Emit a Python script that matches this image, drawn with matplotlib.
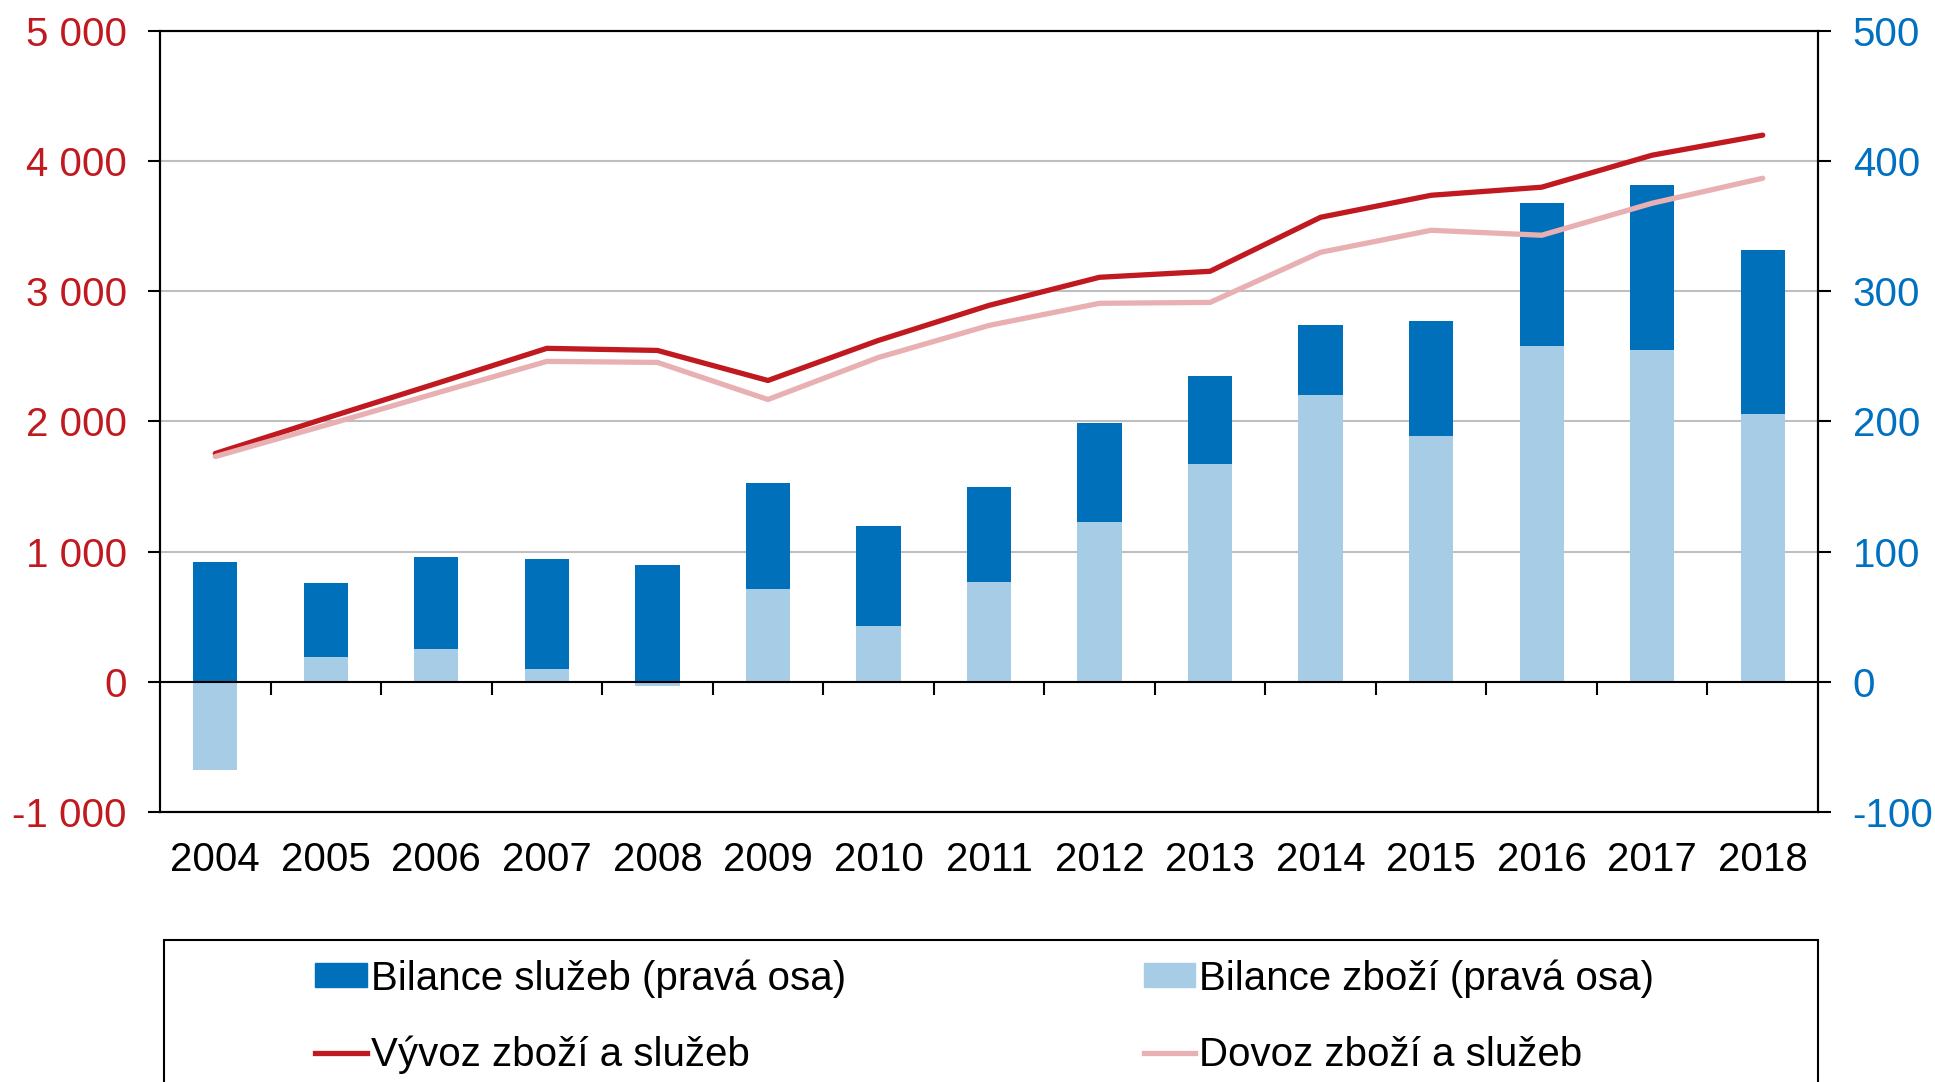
import numpy as np
import matplotlib
matplotlib.use("Agg")
import matplotlib.pyplot as plt
from matplotlib.ticker import FuncFormatter
from matplotlib.patches import Patch, Rectangle
from matplotlib.lines import Line2D

plt.rcParams['font.family'] = ['Liberation Sans', 'DejaVu Sans']

years = ['2004', '2005', '2006', '2007', '2008', '2009', '2010', '2011',
         '2012', '2013', '2014', '2015', '2016', '2017', '2018']
# right axis (bars)
goods_balance = [-68, 19, 25, 10, -3, 71, 43, 77, 123, 167, 220, 189, 258, 255, 206]
services_balance = [92, 57, 71, 84, 90, 82, 77, 73, 76, 68, 54, 88, 110, 127, 126]
# left axis (lines)
exports = [1754, 2025, 2292, 2562, 2546, 2315, 2623, 2892, 3108, 3154, 3569, 3738, 3800, 4046, 4200]
imports = [1731, 1972, 2218, 2462, 2454, 2169, 2492, 2738, 2908, 2915, 3300, 3469, 3431, 3677, 3869]

label_services = 'Bilance služeb (pravá osa)'
label_goods = 'Bilance zboží (pravá osa)'
label_exp = 'Vývoz zboží a služeb'
label_imp = 'Dovoz zboží a služeb'

RED = '#C0191F'
PINK = '#E8B0B3'
DARK = '#0070BA'
LIGHT = '#A7CCE5'
BLUE_TXT = '#0070C0'
FS = 29
LFS = 29

fig = plt.figure(figsize=(19.35, 10.82), dpi=100)
ax = fig.add_axes([160/1935, 1-812/1082, (1818-160)/1935, (812-31)/1082])
ax2 = ax.twinx()
ax.set_zorder(ax2.get_zorder() + 1)
ax.patch.set_visible(False)

x = np.arange(len(years))
g = np.array(goods_balance, dtype=float)
s = np.array(services_balance, dtype=float)
ax2.bar(x, g, width=0.4, color=LIGHT, zorder=2)
ax2.bar(x, s, width=0.4, bottom=np.where(g > 0, g, 0), color=DARK, zorder=2)
ax2.set_ylim(-100, 500)
ax2.set_yticks(np.arange(-100, 501, 100))
ax2.yaxis.grid(True, color='#BFBFBF', lw=1.5)
ax2.set_axisbelow(True)

ax.plot(x, exports, color=RED, lw=3.8, solid_capstyle='round')
ax.plot(x, imports, color=PINK, lw=3.8, solid_capstyle='round')
ax.set_ylim(-1000, 5000)
ax.set_yticks(np.arange(-1000, 5001, 1000))
ax.set_xlim(-0.5, len(years) - 0.5)

fmt = FuncFormatter(lambda v, p: f"{v:,.0f}".replace(",", " "))
ax.yaxis.set_major_formatter(fmt)
ax2.yaxis.set_major_formatter(FuncFormatter(lambda v, p: f"{v:.0f}"))

ax.tick_params(axis='y', direction='out', length=9, width=1.5, pad=15,
               labelcolor=RED, labelsize=FS)
ax2.tick_params(axis='y', direction='out', length=9, width=1.5, pad=16,
                labelcolor=BLUE_TXT, labelsize=FS)

# zero line with category separators
ax.spines['bottom'].set_position(('data', 0))
ax.set_xticks(np.arange(0.5, len(years) - 1, 1.0))
ax.tick_params(axis='x', direction='out', length=9, width=1.5, labelbottom=False)

sec = ax.secondary_xaxis('bottom')
sec.set_xticks(x, labels=years)
sec.tick_params(length=0, pad=21, labelsize=FS)
sec.spines['bottom'].set_linewidth(1.5)

for a in (ax, ax2):
    for sp in a.spines.values():
        sp.set_linewidth(1.5)
        sp.set_color('black')

handles = [Patch(color=DARK), Line2D([], [], color=RED, lw=3.8),
           Patch(color=LIGHT), Line2D([], [], color=PINK, lw=3.8)]
labels = [label_services, label_exp, label_goods, label_imp]
fig.legend(handles, labels, ncol=2, loc='upper left',
           bbox_to_anchor=(315/1935, 1-959/1082), frameon=False, fontsize=LFS,
           handlelength=1.28, handleheight=0.55, handletextpad=0.1,
           columnspacing=7.4, labelspacing=0.95, borderpad=0, borderaxespad=0)
fig.add_artist(Rectangle((164/1935, -0.1), (1818-164)/1935, 0.1 + 1-940/1082,
                         transform=fig.transFigure, fill=False, ec='black', lw=1.5))

fig.savefig('out.png', dpi=100)
